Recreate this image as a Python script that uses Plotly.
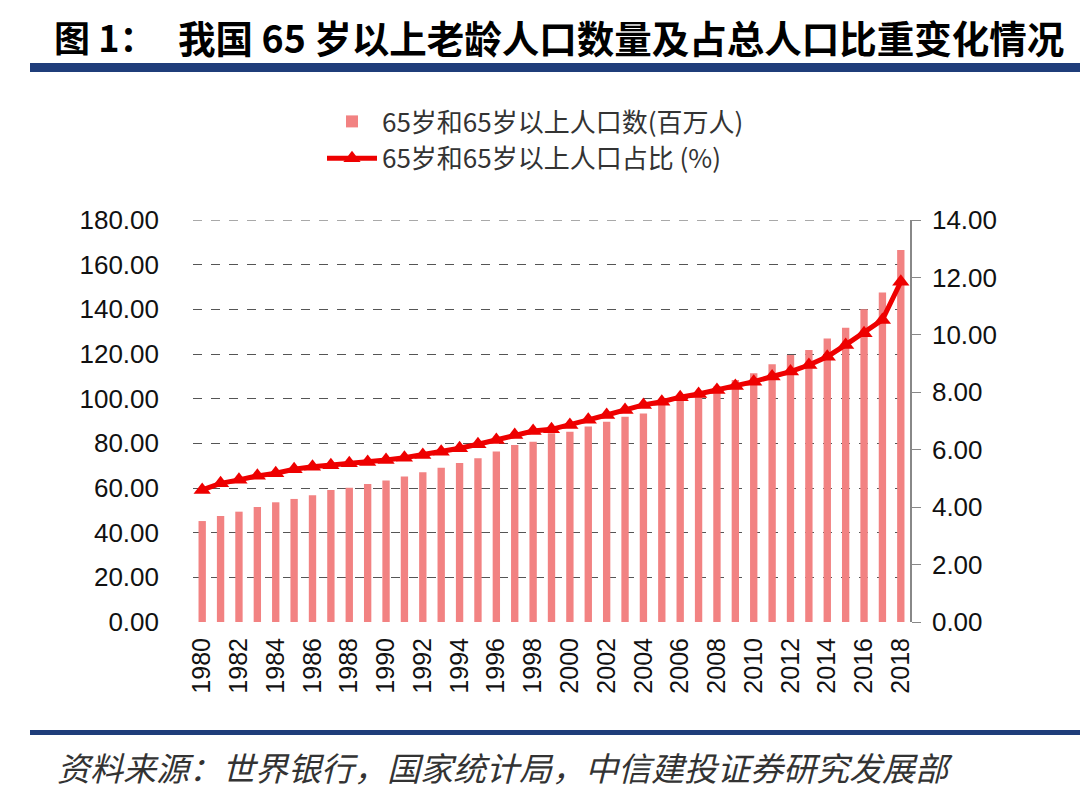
import plotly.graph_objects as go

years = [str(y) for y in range(1980, 2019)]
pop_65 = [45.2, 47.5, 49.4, 51.5, 53.6, 55.1, 56.7, 59.1, 60.1, 61.8,
          63.4, 65.1, 67.0, 69.1, 71.2, 73.3, 76.3, 79.3, 80.7, 84.5,
          85.2, 87.5, 89.7, 91.9, 93.4, 97.9, 100.9, 103.1, 105.4, 108.4,
          111.4, 115.4, 119.6, 121.8, 126.9, 131.8, 140.0, 147.5, 166.6]
share_65 = [4.60, 4.83, 4.95, 5.09, 5.18, 5.32, 5.41, 5.46, 5.53, 5.57,
            5.64, 5.72, 5.82, 5.93, 6.05, 6.19, 6.34, 6.51, 6.65, 6.71,
            6.86, 7.04, 7.21, 7.38, 7.56, 7.67, 7.83, 7.94, 8.08, 8.22,
            8.37, 8.55, 8.72, 8.95, 9.24, 9.65, 10.06, 10.52, 11.85]
xtick_labels = years[::2]
left_ticks = [0, 20, 40, 60, 80, 100, 120, 140, 160, 180]
right_ticks = [0, 2, 4, 6, 8, 10, 12, 14]

title_prefix = "图 1："
title_text = "我国 65 岁以上老龄人口数量及占总人口比重变化情况"
source_text = "资料来源：世界银行，国家统计局，中信建投证券研究发展部"
bar_name = "65岁和65岁以上人口数(百万人)"
line_name = "65岁和65岁以上人口占比 (%)"

W, H = 1080, 793
L, R, T, B = 193, 910, 220, 622
def px(x):
    return (x - L) / (R - L)
def py(y):
    return (B - y) / (B - T)

fig = go.Figure()
fig.add_trace(go.Bar(x=years, y=pop_65, name=bar_name, marker_color="#F28282",
                     marker_line_width=0, width=0.4, yaxis="y"))
fig.add_trace(go.Scatter(x=years, y=share_65, name=line_name, yaxis="y2",
                         mode="lines+markers",
                         line=dict(color="#EE0000", width=5),
                         marker=dict(symbol="triangle-up", size=15, color="#EE0000")))

tick_font = dict(family="Liberation Sans, Arial, sans-serif", size=26, color="#111111")
cjk = "Noto Sans CJK SC, sans-serif"

fig.update_layout(
    width=W, height=H,
    margin=dict(l=L, r=W - R, t=T, b=H - B, autoexpand=False),
    paper_bgcolor="white", plot_bgcolor="white",
    showlegend=True,
    legend=dict(x=px(322), y=py(98), xanchor="left", yanchor="top",
                font=dict(family=cjk, size=26, color="#333333"),
                bgcolor="rgba(0,0,0,0)", itemwidth=50),
    xaxis=dict(type="category", categoryorder="array", categoryarray=years,
               tickmode="array", tickvals=xtick_labels, ticktext=xtick_labels,
               tickangle=-90, tickfont=dict(tick_font, size=25), showgrid=False,
               showline=False, automargin=False,
               ticks="", range=[-0.5, len(years) - 0.5], ticklabelstandoff=10),
    yaxis=dict(range=[0, 180], tickvals=left_ticks, tickformat=".2f",
               tickfont=tick_font, showgrid=True, gridcolor="#555555",
               griddash="dash", gridwidth=1, showline=False, zeroline=False,
               automargin=False, ticks="", ticklabelstandoff=33),
    yaxis2=dict(range=[0, 14], tickvals=right_ticks, tickformat=".2f",
                tickfont=tick_font, overlaying="y", side="right",
                showgrid=False, showline=True, linecolor="#888888", linewidth=1.5,
                ticks="outside", ticklen=9, tickcolor="#888888", automargin=False,
                zeroline=False, ticklabelstandoff=6),
)

# top gridline at 180 (plotly hides grid exactly at the range edge)
fig.add_shape(type="line", xref="paper", yref="y", x0=0, x1=1, y0=180, y1=180,
              line=dict(color="#555555", width=1, dash="dash"))

fig.add_annotation(text="<b>" + title_prefix + "</b>", xref="paper", yref="paper",
                   x=px(52), y=py(36), xanchor="left", yanchor="middle",
                   showarrow=False, font=dict(family=cjk, size=36, color="#000000"))
fig.add_annotation(text="<b>" + title_text + "</b>", xref="paper", yref="paper",
                   x=px(176), y=py(36), xanchor="left", yanchor="middle",
                   showarrow=False, font=dict(family=cjk, size=37.5, color="#000000"))
fig.add_shape(type="rect", xref="paper", yref="paper", x0=px(30), x1=px(1080),
              y0=py(72), y1=py(63), fillcolor="#1F3D7A", line_width=0)
fig.add_shape(type="rect", xref="paper", yref="paper", x0=px(30), x1=px(1080),
              y0=py(735), y1=py(730), fillcolor="#1F3D7A", line_width=0)
fig.add_annotation(text="<i>" + source_text + "</i>", xref="paper", yref="paper",
                   x=px(55), y=py(767), xanchor="left", yanchor="middle",
                   showarrow=False, font=dict(family=cjk, size=33, color="#333333"))

fig.write_html("out.html", config={"displayModeBar": False},
               post_script="document.body.style.margin='0';document.body.style.overflow='hidden';")
